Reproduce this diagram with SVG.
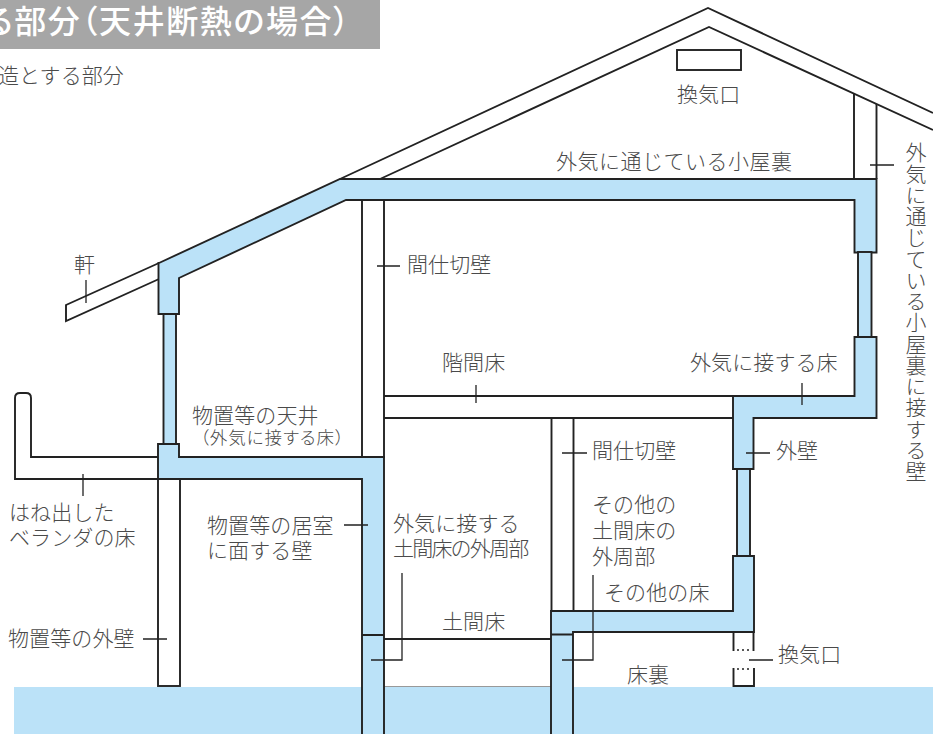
<svg xmlns="http://www.w3.org/2000/svg" width="933" height="734" viewBox="0 0 933 734">
<style>
text{font-family:"Noto Sans CJK JP","Noto Sans",sans-serif;font-size:21px;letter-spacing:.1px;fill:#4a4a4a;font-weight:300}
.t{font-size:32px;font-weight:500;fill:#fff;letter-spacing:1.6px;font-feature-settings:"palt"}
.s{font-size:17.500px;letter-spacing:1px;font-feature-settings:"palt"}
.v{writing-mode:vertical-rl;letter-spacing:.25px}
.c{letter-spacing:-1.8px}
.b{fill:#bbe2f8;stroke:#222;stroke-width:1.9;stroke-linejoin:miter}
.w{fill:#fff;stroke:#222;stroke-width:1.9}
.n{fill:none;stroke:#222;stroke-width:1.9}
.l{fill:none;stroke:#222;stroke-width:1.3}
.d{fill:none;stroke:#222;stroke-width:1.6;stroke-dasharray:2 3}
</style>
<rect width="933" height="734" fill="#fff"/>
<g id="title"><rect x="0" y="0" width="380" height="49" fill="#a6a6a6"/><text class="t" x="-16" y="33">る部分&#xFF08;天井断熱の場合&#xFF09;</text><text x="-2" y="83">造とする部分</text></g>
<g id="ground"><rect x="14" y="687" width="919" height="47" fill="#bbe2f8"/><path d="M384 686.500H551" stroke="#999" stroke-width="1" fill="none"/></g>
<g id="roof">
<path class="n" d="M933 113L708 8L340 179"/>
<path class="n" d="M933 130L709 27L380 179"/>
<path class="w" d="M159 263L66 305V321L159 279"/>
</g>
<g id="balcony"><path class="w" d="M158 457H31V398Q31 393 26 393H20Q15 393 15 398V479H158"/></g>
<g id="store-wall"><rect class="w" x="158" y="479" width="22" height="207"/></g>
<g id="partition-1"><rect class="w" x="362" y="200" width="22" height="257"/></g>
<g id="mid-floor"><path class="n" d="M384 396H733M384 418H733"/></g>
<g id="partition-2"><path class="n" d="M551.500 418V611M573.500 418V611"/></g>
<g id="attic-wall"><path class="n" d="M854 94V179M876.500 104V179"/></g>
<g id="earth-floor"><path class="n" d="M384 639H551"/></g>
<g id="insulation-upper">
<rect class="b" x="163.500" y="312" width="12.500" height="134"/>
<path class="b" d="M159 263L340 179H876.500V252.500H854.500V200H346L179 278V314H158.500V263Z"/>
<rect class="b" x="858" y="252" width="13.500" height="86"/>
<path class="b" d="M854.500 337H876.500V418H753.500V469H733V396H854.500Z"/>
<rect class="b" x="737" y="469" width="13" height="88"/>
<path class="b" d="M733 556H754V632H573V745H551V611H733Z"/>
<path class="b" d="M158 444H179V457H362V457H384V745H362V479H158Z"/>
<path class="n" d="M362 635H384M551 634.500H573"/>
</g>
<g id="vent-low">
<path class="n" d="M733.500 632V651M753.500 632V651M733.500 668V686H754V668"/>
<path class="d" d="M737 650H752M737 669H752"/>
</g>
<g id="vent-top"><rect class="n" x="677" y="50" width="64" height="20"/></g>
<g id="connectors">
<path class="l" d="M86 280V303M377 266H400M476 385V403M802 383V405M746 453H770M562 453H587M83 474V496M344 525H368M402 573V660H371M593 575V660H562M749 660H773M143 639H167M870 165H894"/>
</g>
<g id="labels">
<text x="677" y="102">換気口</text>
<text x="556" y="169" style="letter-spacing:.5px">外気に通じている小屋裏</text>
<text x="74" y="272">軒</text>
<text x="407" y="272">間仕切壁</text>
<text x="442" y="370">階間床</text>
<text x="690" y="370">外気に接する床</text>
<text x="192" y="423">物置等の天井</text>
<text class="s" x="200" y="444">&#xFF08;外気に接する床&#xFF09;</text>
<text x="9" y="520">はね出した</text>
<text x="9" y="545">ベランダの床</text>
<text x="207" y="533">物置等の居室</text>
<text x="207" y="558">に面する壁</text>
<text x="8" y="646">物置等の外壁</text>
<text x="393" y="531">外気に接する</text>
<text class="c" x="393" y="556">土間床の外周部</text>
<text x="442" y="629">土間床</text>
<text x="592" y="458">間仕切壁</text>
<text x="776" y="458">外壁</text>
<text x="592" y="512">その他の</text>
<text x="592" y="538">土間床の</text>
<text x="592" y="564">外周部</text>
<text x="604" y="600">その他の床</text>
<text x="627" y="682">床裏</text>
<text x="778" y="662">換気口</text>
<text class="v" x="916" y="142">外気に通じている小屋裏に接する壁</text>
</g>
</svg>
